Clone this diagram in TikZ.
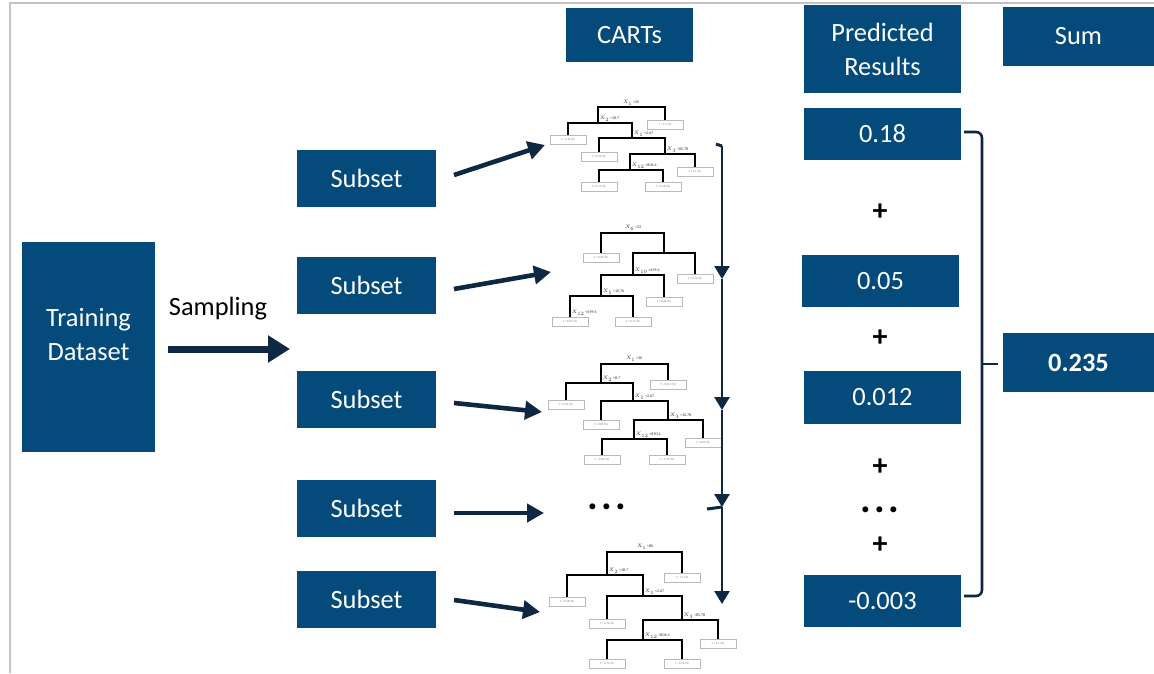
\documentclass[tikz,border=0pt]{standalone}
\usepackage{fontspec}
\setmainfont{Carlito}
\usetikzlibrary{arrows.meta}
\definecolor{boxblue}{RGB}{4,75,124}
\definecolor{navy}{RGB}{14,40,66}
\definecolor{framegray}{RGB}{195,195,195}
\definecolor{leafgray}{RGB}{185,185,185}
\newcommand\tsplit[5]{\draw[treeline] (#1,#4) -- (#1,#3) -- (#2,#3) -- (#2,#5);}
\newcommand\tleaf[4]{\node[leaf] (#1) at (#2,#3) {#4};}
\newcommand\bigdots{.\kern3.5pt.\kern3.5pt.}
\begin{document}
\begin{tikzpicture}[x=1pt,y=-1pt,
  bluebox/.style={fill=boxblue, text=white, inner sep=0pt, font=\fontsize{26.4}{34}\selectfont, align=center},
  bigarrow/.style={draw=navy, line width=4.6pt, -{Triangle[length=17pt,width=18pt]}},
  chain/.style={draw=navy, line width=2.6pt, -{Triangle[length=13pt,width=15pt]}},
  treeline/.style={draw=black, line width=1.1pt},
  leaf/.style={draw=leafgray, line width=0.8pt, fill=white, minimum width=36pt, minimum height=9pt, inner sep=0pt, font=\fontsize{3}{3}\selectfont, text=gray},
  splitlbl/.style={font=\fontsize{4}{4}\selectfont, inner sep=0.5pt, text=black!80},
  symb/.style={font=\fontsize{30}{30}\selectfont\bfseries, inner sep=0pt},
  dotsym/.style={font=\fontsize{40}{40}\selectfont\bfseries, inner sep=0pt, text height=5.5pt, text depth=0pt},
  plain/.style={font=\fontsize{26.4}{30}\selectfont, inner sep=0pt}
]
\useasboundingbox (0,0) rectangle (1154,673);
% frame
\draw[framegray, line width=2pt] (10,673) -- (10,3) -- (1154,3);

% header boxes
\node[bluebox, minimum width=127pt, minimum height=54pt] (carts) at (629.5,35) {CARTs};
\node[bluebox, minimum width=157pt, minimum height=88pt] (pred) at (882.5,49) {Predicted\\Results};
\node[bluebox, minimum width=151pt, minimum height=59pt] (sum) at (1078.5,36.5) {Sum};

% training
\node[bluebox, minimum width=133pt, minimum height=210pt] (train) at (88.5,347) {};
\node[bluebox, fill=none] (traintxt) at (88.5,335) {Training\\Dataset};
\node[plain] (samp) at (218,309) {Sampling};
\coordinate (sampS) at (168,349);
\coordinate (sampE) at (290,349);
\draw[draw=navy, line width=7pt, -{Triangle[length=22pt,width=26pt]}] (sampS) -- (sampE);

% subsets
\node[bluebox, minimum width=139pt, minimum height=57pt] (s1) at (366.5,178.5) {Subset};
\node[bluebox, minimum width=139pt, minimum height=57pt] (s2) at (366.5,285.5) {Subset};
\node[bluebox, minimum width=139pt, minimum height=57pt] (s3) at (366.5,399.5) {Subset};
\node[bluebox, minimum width=139pt, minimum height=57pt] (s4) at (366.5,508.5) {Subset};
\node[bluebox, minimum width=139pt, minimum height=57pt] (s5) at (366.5,599.5) {Subset};

% tree 1
\tsplit{598}{665}{107}{123}{125}
\tsplit{568}{632}{123}{140}{138}
\tsplit{599}{665}{138}{157}{154}
\tsplit{630}{695}{154}{170}{172}
\tsplit{599}{663}{170}{187}{187}
\node[splitlbl, anchor=south] (ta0) at (631,106) {$X_1$ <50};
\node[splitlbl, anchor=south west] (ta1) at (599,122) {$X_2$ <18.7};
\node[splitlbl, anchor=south west] (ta2) at (633,137) {$X_1$ <2.67};
\node[splitlbl, anchor=south west] (ta3) at (666,153) {$X_3$ <85.78};
\node[splitlbl, anchor=south west] (ta4) at (631,169) {$X_{12}$ <806.4};
\tleaf{la1}{665}{125}{Y = 1.1 (\%)}
\tleaf{la2}{568}{140}{Y = 0.18 (\%)}
\tleaf{la3}{599}{157}{Y = 0.16 (\%)}
\tleaf{la4}{695}{172}{Y = 1.1 (\%)}
\tleaf{la5}{599}{187}{Y = 0.15 (\%)}
\tleaf{la6}{663}{187}{Y = 0.18 (\%)}

% tree 2
\tsplit{601}{664}{233}{258}{253}
\tsplit{633}{695}{253}{275}{279}
\tsplit{601}{664}{275}{296}{302}
\tsplit{570}{633}{296}{322}{322}
\node[splitlbl, anchor=south] (tb0) at (633,231) {$X_6$ <33};
\node[splitlbl, anchor=south west] (tb1) at (634,274) {$X_{10}$ <699.4};
\node[splitlbl, anchor=south west] (tb2) at (602,295) {$X_5$ <10.76};
\node[splitlbl, anchor=south west] (tb3) at (571,316) {$X_{12}$ <699.4};
\tleaf{lb1}{601}{258}{Y = 0.05 (\%)}
\tleaf{lb2}{695}{279}{Y = 0.12 (\%)}
\tleaf{lb3}{664}{302}{Y = 0.08 (\%)}
\tleaf{lb4}{570}{322}{Y = 0.05 (\%)}
\tleaf{lb5}{633}{322}{Y = 0.11 (\%)}

% tree 3
\tsplit{601}{668}{364}{383}{385}
\tsplit{566}{633}{383}{405}{401}
\tsplit{601}{668}{401}{425}{420}
\tsplit{634}{703}{420}{439}{443}
\tsplit{602}{667}{439}{460}{460}
\node[splitlbl, anchor=south] (tc0) at (634,362) {$X_1$ <30};
\node[splitlbl, anchor=south west] (tc1) at (602,382) {$X_2$ <8.7};
\node[splitlbl, anchor=south west] (tc2) at (634,400) {$X_1$ <2.67};
\node[splitlbl, anchor=south west] (tc3) at (669,419) {$X_3$ <10.78};
\node[splitlbl, anchor=south west] (tc4) at (635,438) {$X_{12}$ <890.4};
\tleaf{lc1}{668}{385}{Y = 0.012 (\%)}
\tleaf{lc2}{566}{405}{Y = 0.10 (\%)}
\tleaf{lc3}{601}{425}{Y = 0.08 (\%)}
\tleaf{lc4}{703}{443}{Y = 0.09 (\%)}
\tleaf{lc5}{602}{460}{Y = 0.02 (\%)}
\tleaf{lc6}{667}{460}{Y = 0.11 (\%)}

% tree 5
\tsplit{607}{682}{552}{575}{578}
\tsplit{567}{643}{575}{602}{596}
\tsplit{607}{682}{596}{624}{620}
\tsplit{643}{718}{620}{640}{644}
\tsplit{607}{682}{640}{664}{664}
\node[splitlbl, anchor=south] (td0) at (645,550) {$X_1$ <80};
\node[splitlbl, anchor=south west] (td1) at (608,574) {$X_2$ <18.7};
\node[splitlbl, anchor=south west] (td2) at (644,595) {$X_1$ <2.67};
\node[splitlbl, anchor=south west] (td3) at (683,619) {$X_3$ <85.78};
\node[splitlbl, anchor=south west] (td4) at (644,639) {$X_{12}$ <806.4};
\tleaf{ld1}{682}{578}{Y = 1.1 (\%)}
\tleaf{ld2}{567}{602}{Y = 0.18 (\%)}
\tleaf{ld3}{607}{624}{Y = 0.16 (\%)}
\tleaf{ld4}{718}{644}{Y = 1.1 (\%)}
\tleaf{ld5}{607}{664}{Y = 0.15 (\%)}
\tleaf{ld6}{682}{664}{Y = 0.18 (\%)}

\node[dotsym] (cdots) at (607,507) {\bigdots};

% subset arrows
\coordinate (a1) at (454,175); \coordinate (t1) at (545,145);
\coordinate (a2) at (454,289); \coordinate (t2) at (551,272);
\coordinate (a3) at (454,403); \coordinate (t3) at (542,412);
\coordinate (a4) at (454,513); \coordinate (t4) at (544,513);
\coordinate (a5) at (454,600); \coordinate (t5) at (540,612);
\draw[bigarrow] (a1) -- (t1);
\draw[bigarrow] (a2) -- (t2);
\draw[bigarrow] (a3) -- (t3);
\draw[bigarrow] (a4) -- (t4);
\draw[bigarrow] (a5) -- (t5);

% chain arrows
\coordinate (c0) at (722,146);
\coordinate (c1) at (722,279);
\coordinate (c2) at (722,410);
\coordinate (c3) at (722,507);
\coordinate (c4) at (722,604);
\coordinate (d0) at (716,144);
\coordinate (d1) at (707,509);
\draw[navy, line width=3pt] (d0) -- (c0);
\draw[navy, line width=3pt] (d1) -- (c3);
\draw[chain] (c0) -- (c1);
\draw[chain] (c1) -- (c2);
\draw[chain] (c2) -- (c3);
\draw[chain] (c3) -- (c4);

% predicted values
\node[bluebox, minimum width=157pt, minimum height=52pt] (v1) at (882.5,134) {0.18};
\node[bluebox, minimum width=157pt, minimum height=52pt] (v2) at (880.5,281) {0.05};
\node[bluebox, minimum width=157pt, minimum height=53pt] (v3) at (882.5,397.5) {0.012};
\node[bluebox, minimum width=157pt, minimum height=52pt] (v4) at (882.5,601) {-0.003};
\node[symb] (p1) at (880,212) {+};
\node[symb] (p2) at (880,338) {+};
\node[symb] (p3) at (880,467) {+};
\node[dotsym] (pdots) at (880,510) {\bigdots};
\node[symb] (p4) at (880,545) {+};

% brace and total
\node[bluebox, minimum width=151pt, minimum height=59pt, font=\fontsize{26.4}{30}\selectfont\bfseries] (tot) at (1078.5,362.5) {0.235};
\coordinate (b0) at (964,132);
\coordinate (b1) at (982,132);
\coordinate (b2) at (982,596);
\coordinate (b3) at (964,596);
\coordinate (bm) at (982,364);
\coordinate (bt) at (998,364);
\draw[navy, line width=2.6pt, rounded corners=6pt] (b0) -- (b1) -- (b2) -- (b3);
\draw[navy, line width=2.6pt] (bm) -- (bt);
\end{tikzpicture}
\end{document}
